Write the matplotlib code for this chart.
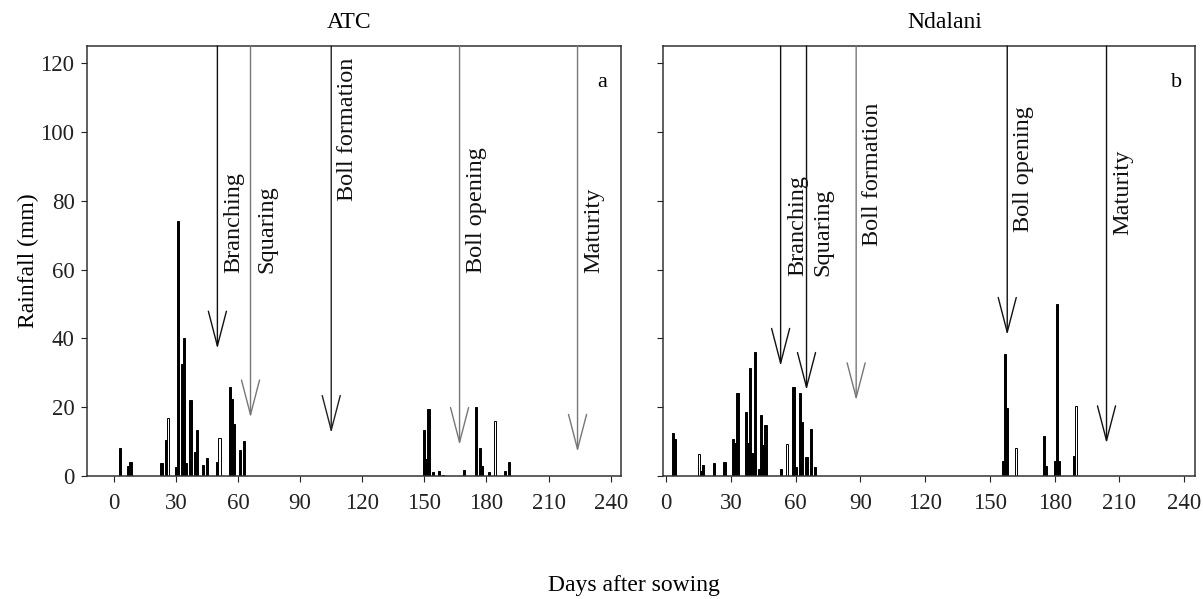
import numpy as np
import matplotlib
matplotlib.use("Agg")
import matplotlib.pyplot as plt

plt.rcParams['font.family'] = ['Liberation Serif', 'DejaVu Serif']

# ATC daily rainfall (mm)
atc_day = [3, 7, 8, 23, 25, 26, 30, 31, 33, 34, 35, 37, 39, 40, 43, 45, 50, 51, 56, 57, 58, 61, 63,
           150, 151, 152, 154, 157, 159, 169, 175, 177, 178, 181, 184, 189, 191]
atc_rain = [8, 3, 4, 3.7, 10.5, 17, 2.6, 74, 32.5, 40, 3.8, 22, 7, 13.5, 3.1, 5.3, 4.2, 11, 26, 22.5, 15, 7.6, 10.3,
            13.5, 5, 19.5, 1.1, 1.4, 0.4, 1.7, 20, 8, 2.8, 1.1, 16, 1.4, 4.2]
atc_hollow = [26, 51, 184]

# Ndalani daily rainfall (mm)
ndal_day = [3, 4, 15, 16, 17, 22, 27, 31, 32, 33, 37, 38, 39, 40, 41, 43, 44, 45, 46, 53, 56, 59, 60, 62, 63, 65, 67, 69,
            156, 157, 158, 162, 175, 176, 180, 181, 182, 189, 190]
ndal_rain = [12.4, 10.7, 6.5, 1.4, 3.3, 3.7, 4, 10.7, 9.6, 24, 18.6, 9.6, 31.5, 6.8, 36, 1.9, 17.8, 9, 14.7, 2.1, 9.3,
             26, 2.5, 24, 15.8, 5.6, 13.8, 2.5, 4.5, 35.5, 19.7, 8.2, 11.7, 2.9, 4.3, 50, 4.3, 5.9, 20.3]
ndal_hollow = [15, 56, 162, 190]

# growth stages
stages = ['Branching', 'Squaring', 'Boll formation', 'Boll opening', 'Maturity']
atc_stage_day = [50, 66, 105, 167, 224]
atc_stage_tip = [37, 17, 12.5, 9, 7]
atc_label_y = [59, 59, 80, 59, 59]
atc_arrow_col = ['#111111', '#777777', '#222222', '#777777', '#777777']
ndal_stage_day = [53, 65, 88, 158, 204]
ndal_stage_tip = [32, 25, 22, 41, 9.5]
ndal_label_y = [58, 58, 67, 71, 70]
ndal_arrow_col = ['#111111', '#111111', '#777777', '#111111', '#111111']

fig = plt.figure(figsize=(12.03, 5.99), dpi=100)
W, H = 1203, 599
ax1 = fig.add_axes([87 / W, (H - 476) / H, (621 - 87) / W, 430 / H])
ax2 = fig.add_axes([663 / W, (H - 476) / H, (1195 - 663) / W, 430 / H])

panels = [
    (ax1, atc_day, atc_rain, atc_hollow, atc_stage_day, atc_stage_tip, atc_label_y, atc_arrow_col, 'ATC', 'a', (-13, 245), 0.49),
    (ax2, ndal_day, ndal_rain, ndal_hollow, ndal_stage_day, ndal_stage_tip, ndal_label_y, ndal_arrow_col, 'Ndalani', 'b', (-1.5, 245), 0.53),
]

for ax, d, r, hol, sd, st, ly, ac, title, letter, xl, tx in panels:
    d = np.array(d); r = np.array(r)
    face = ['white' if x in hol else 'black' for x in d]
    ax.bar(d, r, width=1.0, color=face, edgecolor='black', linewidth=0.7, align='center')
    for name, x, tip, yb, c in zip(stages, sd, st, ly, ac):
        ax.annotate('', xy=(x, tip), xytext=(x, 125), annotation_clip=False,
                    arrowprops=dict(arrowstyle='->,head_length=2.5,head_width=0.65', mutation_scale=10,
                                    color=c, lw=1.0, shrinkA=0, shrinkB=0))
        ax.annotate(name, xy=(x, yb), xytext=(12, 0), textcoords='offset points',
                    rotation=90, ha='center', va='bottom', fontsize=17.5, color='#111111')
    ax.set_xlim(*xl)
    ax.set_ylim(0, 125)
    ax.set_xticks(np.arange(0, 241, 30))
    ax.set_yticks(np.arange(0, 121, 20))
    ax.tick_params(direction='out', length=4, width=0.8, labelsize=16.5, colors='#222222')
    ax.tick_params(axis='x', pad=8)
    ax.tick_params(axis='y', pad=5)
    for s in ax.spines.values():
        s.set_linewidth(1.1)
        s.set_color('#333333')
    ax.text(tx, 1.03, title, transform=ax.transAxes, ha='center', va='bottom', fontsize=17)
    ax.text(0.965, 0.915, letter, transform=ax.transAxes, ha='center', va='center', fontsize=16)

ax2.tick_params(axis='y', labelleft=False)

fig.text(28 / W, 1 - 261 / H, 'Rainfall (mm)', rotation=90, ha='center', va='center', fontsize=17)
fig.text(634 / W, 1 - 585 / H, 'Days after sowing', ha='center', va='center', fontsize=17)

fig.savefig('out.png', dpi=100)
